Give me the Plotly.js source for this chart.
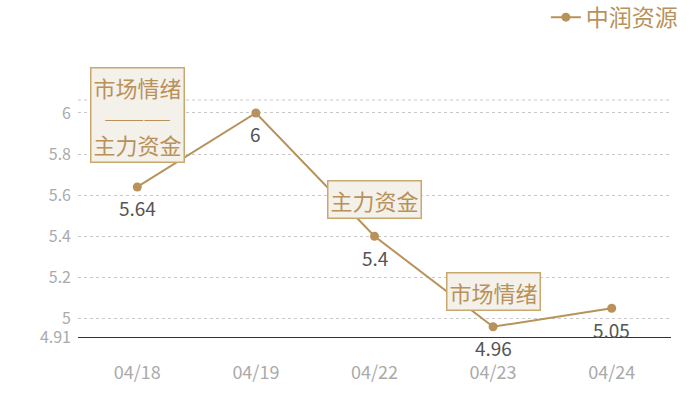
<!DOCTYPE html>
<html><head><meta charset="utf-8">
<script src="https://cdn.plot.ly/plotly-3.0.1.min.js"></script>
<style>body{margin:0;background:#fff}#c{width:700px;height:400px}</style>
</head><body><div id="c"></div>
<script>
const dates = ['04/18','04/19','04/22','04/23','04/24'];
const values = [5.64, 6, 5.4, 4.96, 5.05];
const seriesName = '中润资源';
const yTicks = [4.91, 5, 5.2, 5.4, 5.6, 5.8, 6];
const yTickText = ['4.91','5','5.2','5.4','5.6','5.8','6'];
const noteIdx = [0, 1, 2, 3];
const noteText = ['市场情绪<br><span style="font-size:16px">—————</span><br>主力资金', '市场情绪', '主力资金', '市场情绪'];
const noteY = [5.988, 6.178, 5.578, 5.13];
const yRange = [4.91, 6.063];

const gold = '#b8925a';
const font = '"Noto Sans CJK SC", "Noto Sans", sans-serif';

const trace = {
  x: dates, y: values, type: 'scatter', mode: 'lines+markers',
  name: seriesName,
  line: {color: gold, width: 2},
  marker: {color: gold, size: 9},
  cliponaxis: false
};

const labelAnns = dates.map((d, i) => ({
  x: d, y: values[i], xref: 'x', yref: 'y', text: String(values[i]),
  showarrow: false, yshift: -21,
  font: {color: '#555', size: 19, family: font}
}));

const noteAnns = noteIdx.map((i, k) => ({
  x: dates[i], y: noteY[k], xref: 'x', yref: 'y',
  text: noteText[k], showarrow: false,
  font: {color: gold, size: 22, family: font},
  bgcolor: '#f4f0ea', bordercolor: '#c9a870', borderwidth: 1.5, borderpad: 2
}));

const layout = {
  width: 700, height: 400,
  margin: {l: 78, r: 29, t: 100, b: 63, autoexpand: false},
  paper_bgcolor: '#fff', plot_bgcolor: '#fff',
  showlegend: true,
  legend: {x: 1.02, xanchor: 'right', y: 1.44, yanchor: 'top', orientation: 'h',
    font: {color: gold, size: 23, family: font}, itemwidth: 30},
  xaxis: {type: 'category', range: [-0.5, 4.5], showgrid: false, zeroline: false,
    showline: true, linecolor: '#333', linewidth: 1.2, ticks: '',
    tickfont: {color: '#aaa', size: 18, family: font}, ticklabelstandoff: 19},
  yaxis: {range: yRange, tickvals: yTicks, ticktext: yTickText, showgrid: true,
    gridcolor: '#c8c8c8', griddash: 'dot', gridwidth: 1, zeroline: false, showline: false,
    tickfont: {color: '#aaa', size: 16, family: font}, ticks: '', ticklabelstandoff: 6},
  shapes: [{type: 'line', xref: 'paper', yref: 'paper', x0: 0, x1: 1, y0: 1, y1: 1,
    line: {color: '#c8c8c8', width: 1, dash: 'dot'}}],
  annotations: labelAnns.concat(noteAnns)
};

Plotly.newPlot('c', [trace], layout, {displayModeBar: false});
</script></body></html>
